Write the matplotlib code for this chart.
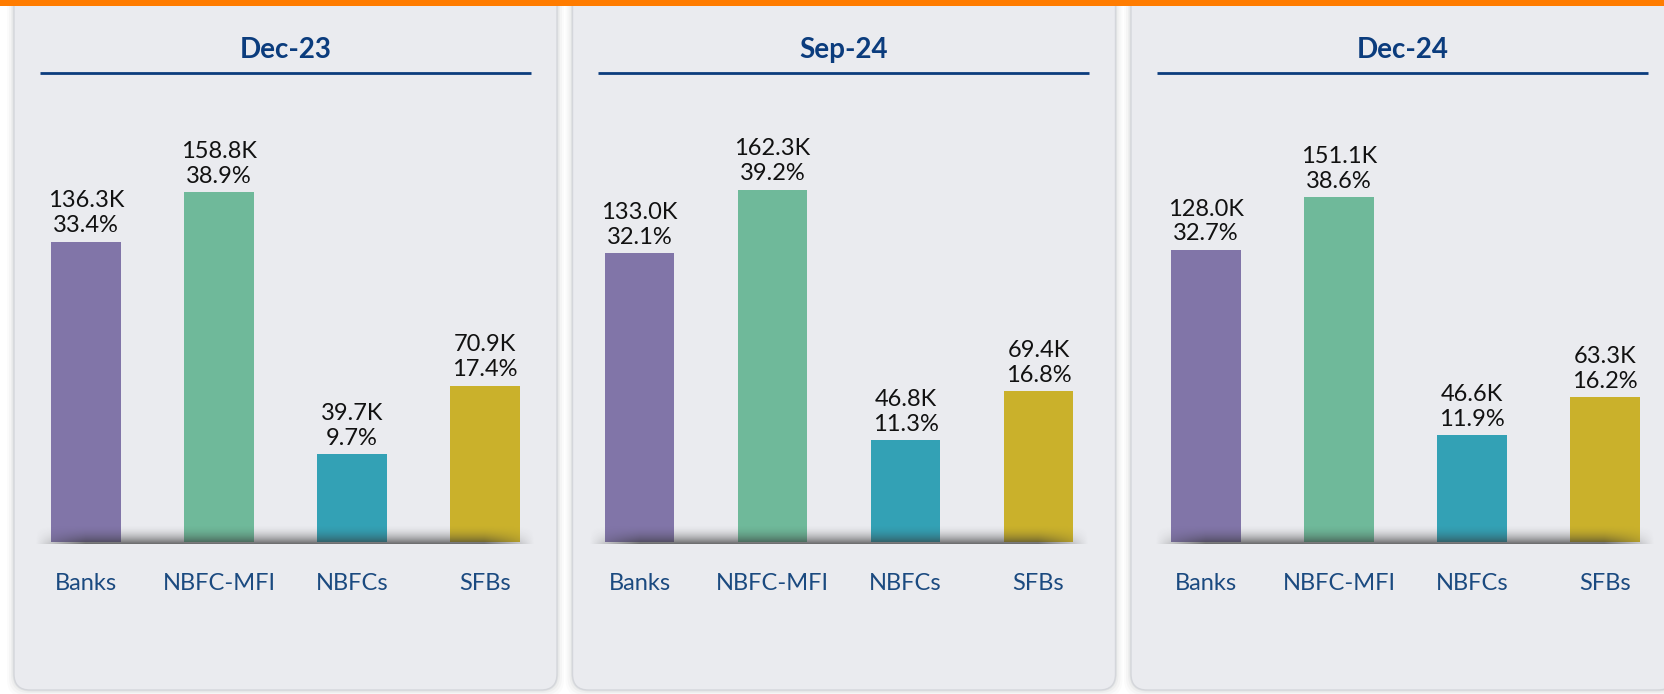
import numpy as np
import matplotlib.pyplot as plt
from matplotlib.patches import FancyBboxPatch, Rectangle

plt.rcParams['font.family'] = ['Lato', 'DejaVu Sans']

# data
periods = ['Dec-23', 'Sep-24', 'Dec-24']
categories = ['Banks', 'NBFC-MFI', 'NBFCs', 'SFBs']
amounts = [[136.3, 158.8, 39.7, 70.9],
           [133.0, 162.3, 46.8, 69.4],
           [128.0, 151.1, 46.6, 63.3]]
shares = [[33.4, 38.9, 9.7, 17.4],
          [32.1, 39.2, 11.3, 16.8],
          [32.7, 38.6, 11.9, 16.2]]

bar_colors = ['#8175a8', '#6fb99a', '#33a1b5', '#cab12b']
title_col = '#0b3c7d'
label_col = '#1b4a80'
panel_col = '#eaebef'
ymax = [203, 206, 196]      # each panel had its own scale
bar_shift = [0, -5, 3]      # small horizontal offsets of the plot area per card

W, H = 1665, 694
fig = plt.figure(figsize=(W / 100, H / 100), dpi=100)
fig.patch.set_facecolor('white')

# background layer in pixel units
bg = fig.add_axes([0, 0, 1, 1], zorder=0)
bg.set_xlim(0, W)
bg.set_ylim(H, 0)
bg.axis('off')

pitch = 558.5
pan_w = 543
for i, per in enumerate(periods):
    x0 = 14 + i * pitch
    # soft shadow around the card
    for k, a in zip([7, 5, 3, 1.5], [0.04, 0.06, 0.08, 0.12]):
        bg.add_patch(FancyBboxPatch((x0 - k, -20), pan_w + 2 * k, 710 + k,
                                    boxstyle='round,pad=0,rounding_size=18',
                                    fc='#9a9ca2', ec='none', alpha=a, zorder=1))
    bg.add_patch(FancyBboxPatch((x0, -20), pan_w, 710,
                                boxstyle='round,pad=0,rounding_size=16',
                                fc=panel_col, ec='#d4d6db', lw=1, zorder=2))
    cx = x0 + pan_w / 2
    bg.text(cx, 50, per, ha='center', va='center', fontsize=20,
            fontweight='bold', color=title_col, zorder=3)
    bg.plot([x0 + 26, x0 + 517], [73, 73], color=title_col, lw=2,
            solid_capstyle='butt', zorder=3)

# orange strip at top
bg.add_patch(Rectangle((0, 0), W, 5.5, fc='#ff7c00', ec='none', zorder=5))

# bar charts
base_y = 541.6
top_y = 95
for i in range(len(periods)):
    left = 14 + i * pitch + pan_w / 2 - 266 + bar_shift[i]
    ax = fig.add_axes([left / W, 1 - base_y / H, 532 / W, (base_y - top_y) / H],
                      zorder=2)
    ax.patch.set_alpha(0)
    xs = np.arange(len(categories))
    ax.bar(xs, amounts[i], width=0.526, color=bar_colors)
    for x, v, s in zip(xs, amounts[i], shares[i]):
        ax.annotate(f'{v:.1f}K\n{s:.1f}%', (x, v), xytext=(0, 4),
                    textcoords='offset points', ha='center', va='bottom',
                    fontsize=17, color='#111111', linespacing=1.22)
    ax.set_xlim(-0.5, 3.5)
    ax.set_ylim(0, ymax[i])
    ax.set_xticks(xs)
    ax.set_xticklabels(categories, fontsize=17, color=label_col)
    ax.tick_params(axis='x', length=0, pad=22.5)
    ax.set_yticks([])
    for sp in ax.spines.values():
        sp.set_visible(False)

    # floor shadow along the baseline
    sh = fig.add_axes([(left + 16) / W, 1 - (base_y + 2.5) / H, 500 / W, 20 / H],
                      zorder=3)
    rows, cols = 40, 300
    g = np.zeros((rows, cols, 4))
    g[..., :3] = 0.2
    vert = np.linspace(0, 1, rows)[:, None] ** 2.0
    hor = np.clip(np.minimum(np.linspace(0, 1, cols), np.linspace(1, 0, cols)) * 10, 0, 1)[None, :]
    g[..., 3] = 0.7 * vert * hor
    sh.imshow(g, aspect='auto', extent=[0, 1, 0, 1], interpolation='bilinear')
    sh.axis('off')

fig.savefig('out.png', dpi=100)
